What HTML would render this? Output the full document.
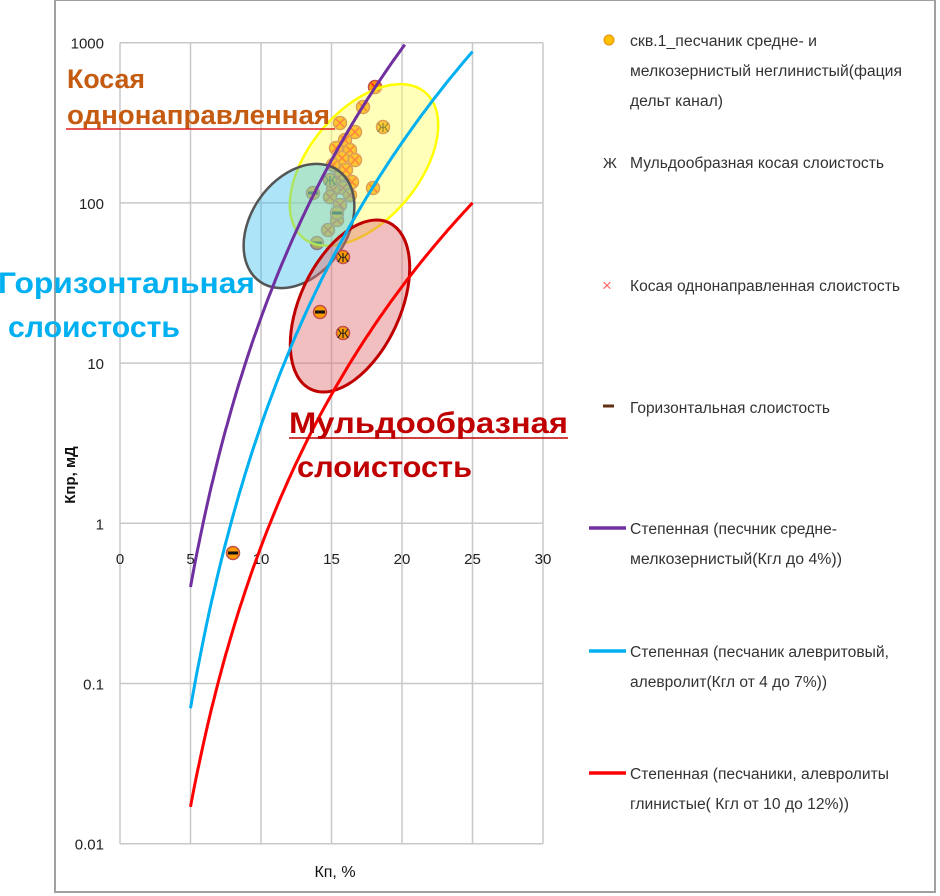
<!DOCTYPE html>
<html><head><meta charset="utf-8"><style>
body{margin:0;background:#fff;width:940px;height:896px;overflow:hidden}
svg{position:absolute;left:0;top:0}
text{font-family:"Liberation Sans","DejaVu Sans",sans-serif}
</style></head><body>
<svg id="s" width="940" height="896" viewBox="0 0 940 896" xmlns="http://www.w3.org/2000/svg">
<rect x="55" y="0" width="880" height="892" fill="#fff" stroke="#a0a0a0" stroke-width="2"/>
<g id="grid" stroke="#c8c8c8" stroke-width="1.5" fill="none"></g>
<g id="ylab" font-size="15" fill="#222" text-anchor="end"></g>
<g id="xlab" font-size="15" fill="#222" text-anchor="middle"></g>
<g id="pts"></g>
<ellipse cx="364" cy="165" rx="95" ry="55" transform="rotate(-50 364 165)" fill="#ffff66" fill-opacity="0.45" stroke="#ffff00" stroke-width="2.5"/>
<ellipse cx="299" cy="226" rx="68" ry="48" transform="rotate(-55 299 226)" fill="#33bbee" fill-opacity="0.4" stroke="#555" stroke-width="2.5"/>
<ellipse cx="350" cy="306" rx="92" ry="50" transform="rotate(-65 350 306)" fill="#e07070" fill-opacity="0.45" stroke="#c00000" stroke-width="3"/>
<g id="curves" fill="none" stroke-width="3"></g>
<g id="pts2"></g>
<g font-weight="bold">
<text x="67" y="88" font-size="27" fill="#c55a11" textLength="78" lengthAdjust="spacingAndGlyphs">Косая</text>
<text x="67" y="124" font-size="27" fill="#c55a11" textLength="263" lengthAdjust="spacingAndGlyphs">однонаправленная</text>
<text x="-2" y="293" font-size="30" fill="#00b0f0" textLength="257" lengthAdjust="spacingAndGlyphs">Горизонтальная</text>
<text x="8" y="337" font-size="30" fill="#00b0f0" textLength="172" lengthAdjust="spacingAndGlyphs">слоистость</text>
<text x="289" y="433" font-size="30" fill="#c00000" textLength="279" lengthAdjust="spacingAndGlyphs">Мульдообразная</text>
<text x="297" y="477" font-size="30" fill="#c00000" textLength="175" lengthAdjust="spacingAndGlyphs">слоистость</text>
</g>
<line x1="66" y1="129" x2="335" y2="129" stroke="#e02020" stroke-width="1.5"/>
<line x1="289" y1="438" x2="568" y2="438" stroke="#c00000" stroke-width="1.5"/>
<text x="0" y="0" font-size="15" font-weight="bold" fill="#111" text-anchor="middle" transform="translate(75 475) rotate(-90)">Кпр, мД</text>
<text x="335" y="877" font-size="16" fill="#111" text-anchor="middle">Кп, %</text>
<g font-size="15.5" fill="#333">
<circle cx="609" cy="40" r="5" fill="#ffc000" stroke="#e09000"/>
<text x="630" y="46" textLength="187" lengthAdjust="spacingAndGlyphs">скв.1_песчаник средне- и</text>
<text x="630" y="76" textLength="272" lengthAdjust="spacingAndGlyphs">мелкозернистый неглинистый(фация</text>
<text x="630" y="106" textLength="93" lengthAdjust="spacingAndGlyphs">дельт канал)</text>
<text x="603" y="168" font-size="15" fill="#333">Ж</text>
<text x="630" y="168" textLength="254" lengthAdjust="spacingAndGlyphs">Мульдообразная косая слоистость</text>
<text x="602" y="291" font-size="17" fill="#ff6666">×</text>
<text x="630" y="291" textLength="270" lengthAdjust="spacingAndGlyphs">Косая однонаправленная слоистость</text>
<line x1="603" y1="406" x2="614" y2="406" stroke="#603010" stroke-width="3"/>
<text x="630" y="413" textLength="200" lengthAdjust="spacingAndGlyphs">Горизонтальная слоистость</text>
<line x1="589" y1="528" x2="626" y2="528" stroke="#7030a0" stroke-width="3.5"/>
<text x="630" y="534" textLength="207" lengthAdjust="spacingAndGlyphs">Степенная (песчник средне-</text>
<text x="630" y="564" textLength="212" lengthAdjust="spacingAndGlyphs">мелкозернистый(Кгл до 4%))</text>
<line x1="589" y1="651" x2="626" y2="651" stroke="#00b0f0" stroke-width="3.5"/>
<text x="630" y="657" textLength="259" lengthAdjust="spacingAndGlyphs">Степенная (песчаник алевритовый,</text>
<text x="630" y="687" textLength="197" lengthAdjust="spacingAndGlyphs">алевролит(Кгл от 4 до 7%))</text>
<line x1="589" y1="773" x2="626" y2="773" stroke="#ff0000" stroke-width="3.5"/>
<text x="630" y="779" textLength="259" lengthAdjust="spacingAndGlyphs">Степенная (песчаники, алевролиты</text>
<text x="630" y="809" textLength="219" lengthAdjust="spacingAndGlyphs">глинистые( Кгл от 10 до 12%))</text>
</g>
</svg>
<script>
var NS="http://www.w3.org/2000/svg";
function X(v){return 120+v*14.1}
function Y(k){return 42.7+(3-Math.log10(k))*160.2}
function el(p,t,a,txt){var e=document.createElementNS(NS,t);for(var k in a)e.setAttribute(k,a[k]);if(txt!==undefined)e.textContent=txt;document.getElementById(p).appendChild(e);return e}
for(var i=0;i<=6;i++){el("grid","line",{x1:X(i*5),y1:Y(1000),x2:X(i*5),y2:Y(0.01)});el("xlab","text",{x:X(i*5),y:564},String(i*5))}
var yl=["1000","100","10","1","0.1","0.01"];
for(var j=0;j<6;j++){var v=Math.pow(10,3-j);el("grid","line",{x1:X(0),y1:Y(v),x2:X(30),y2:Y(v)});el("ylab","text",{x:104,y:Y(v)+6},yl[j])}
function curve(k0,x0,x1,k1,col){var b=Math.log(k1/k0)/Math.log(x1/x0);var d="";for(var x=5;x<=x1+0.001;x+=0.1){var k=k0*Math.pow(x/5,b);if(k>1000)break;d+=(d?"L":"M")+X(x).toFixed(1)+" "+Y(k).toFixed(1)}el("curves","path",{d:d,stroke:col})}
curve(0.4,5,20.3,1000,"#7030a0");
curve(0.07,5,25,880,"#00b0f0");
curve(0.017,5,25,100,"#ff0000");
function P(x,y,t,g){g=g||"pts";el(g,"circle",{cx:x,cy:y,r:6.5,fill:"#ff9900",stroke:"#c0504d","stroke-width":1.5});
if(t=="x"){el(g,"path",{d:"M"+(x-4)+" "+(y-4)+"L"+(x+4)+" "+(y+4)+"M"+(x+4)+" "+(y-4)+"L"+(x-4)+" "+(y+4),stroke:"#ff2020","stroke-width":1.5})}
if(t=="z"){el(g,"text",{x:x,y:y+5,"font-size":13,"text-anchor":"middle",fill:"#222"},"Ж")}
if(t=="h"){el(g,"line",{x1:x-5,y1:y,x2:x+5,y2:y,stroke:"#111","stroke-width":3})}}
var c=[[375,87],[363,107],[340,123],[355,132],[345,140],[336,148],[350,150],[342,158],[355,160],[333,165],[346,170],[338,178],[352,182],[343,188],[333,190],[350,195],[330,197],[340,205],[328,230],[337,220],[373,188]];
c.forEach(function(p){P(p[0],p[1],"x")});
P(383,127,"z");P(330,180,"z");P(313,193,"h");P(337,213,"h");P(317,243,"h");
P(343,257,"z","pts2");P(320,312,"h","pts2");P(343,333,"z","pts2");P(233,553,"h","pts2");
</script>
</body></html>
